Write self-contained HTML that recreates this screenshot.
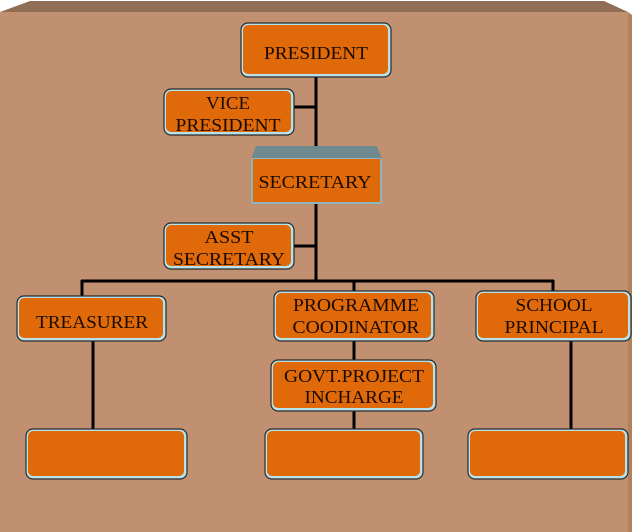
<!DOCTYPE html>
<html><head><style>
html,body{margin:0;padding:0;background:#fff;}
svg{display:block;}
text{font-family:"Liberation Serif",serif;font-size:18px;fill:#1a0a00;text-anchor:middle;}
</style></head><body>
<svg width="632" height="532" viewBox="0 0 632 532" xmlns="http://www.w3.org/2000/svg">
<polygon points="0,12 30,1 604,1 628,12" fill="#8f6e55"/>
<polygon points="0,12 628,12 628,532 0,532" fill="#c09070"/>
<polygon points="628,12 632,15 632,532 628,532" fill="#b0805f"/>
<g stroke="#000" stroke-width="3" fill="none">
<line x1="316" y1="77" x2="316" y2="282"/>
<line x1="294" y1="107" x2="316" y2="107"/>
<line x1="294" y1="246" x2="316" y2="246"/>
<line x1="81" y1="281" x2="554" y2="281"/>
<line x1="82" y1="280" x2="82" y2="296"/>
<line x1="354" y1="280" x2="354" y2="291"/>
<line x1="553" y1="280" x2="553" y2="291"/>
<line x1="93" y1="341" x2="93" y2="429"/>
<line x1="354" y1="341" x2="354" y2="361"/>
<line x1="354" y1="411" x2="354" y2="429"/>
<line x1="571" y1="341" x2="571" y2="429"/>
</g>
<g stroke="#2a2a2a" stroke-width="1.2">
<rect x="241" y="23" width="150" height="54" rx="7" fill="#b8e2ea"/>
<rect x="164" y="89" width="130" height="46" rx="7" fill="#b8e2ea"/>
<rect x="164" y="223" width="130" height="46" rx="7" fill="#b8e2ea"/>
<rect x="17" y="296" width="149" height="45" rx="7" fill="#b8e2ea"/>
<rect x="274" y="291" width="160" height="50" rx="7" fill="#b8e2ea"/>
<rect x="476" y="291" width="155" height="50" rx="7" fill="#b8e2ea"/>
<rect x="271" y="360" width="165" height="51" rx="7" fill="#b8e2ea"/>
<rect x="26" y="429" width="161" height="50" rx="7" fill="#b8e2ea"/>
<rect x="265" y="429" width="158" height="50" rx="7" fill="#b8e2ea"/>
<rect x="468" y="429" width="160" height="50" rx="7" fill="#b8e2ea"/>
</g>
<g fill="#e06a0a">
<rect x="243" y="25" width="145" height="49" rx="5"/>
<rect x="166" y="91" width="125" height="41" rx="5"/>
<rect x="166" y="225" width="125" height="41" rx="5"/>
<rect x="19" y="298" width="144" height="40" rx="5"/>
<rect x="276" y="293" width="155" height="45" rx="5"/>
<rect x="478" y="293" width="150" height="45" rx="5"/>
<rect x="273" y="362" width="160" height="46" rx="5"/>
<rect x="28" y="431" width="156" height="45" rx="5"/>
<rect x="267" y="431" width="153" height="45" rx="5"/>
<rect x="470" y="431" width="155" height="45" rx="5"/>
</g>
<polygon points="256,146 377,146 382,159 251,159" fill="#6e8a8e"/>
<rect x="251" y="158" width="131" height="46" rx="2" fill="#8fb4ba"/>
<rect x="253" y="159" width="127" height="43" fill="#e06a0a"/>
<g lengthAdjust="spacingAndGlyphs">
<text x="316" y="59" textLength="104" lengthAdjust="spacingAndGlyphs">PRESIDENT</text>
<text x="228" y="109" textLength="44" lengthAdjust="spacingAndGlyphs">VICE</text>
<text x="228" y="131" textLength="105" lengthAdjust="spacingAndGlyphs">PRESIDENT</text>
<text x="315" y="188" textLength="113" lengthAdjust="spacingAndGlyphs">SECRETARY</text>
<text x="229" y="243" textLength="49" lengthAdjust="spacingAndGlyphs">ASST</text>
<text x="229" y="265" textLength="112" lengthAdjust="spacingAndGlyphs">SECRETARY</text>
<text x="92" y="328" textLength="112" lengthAdjust="spacingAndGlyphs">TREASURER</text>
<text x="356" y="311" textLength="126" lengthAdjust="spacingAndGlyphs">PROGRAMME</text>
<text x="356" y="333" textLength="127" lengthAdjust="spacingAndGlyphs">COODINATOR</text>
<text x="554" y="311" textLength="77" lengthAdjust="spacingAndGlyphs">SCHOOL</text>
<text x="554" y="333" textLength="99" lengthAdjust="spacingAndGlyphs">PRINCIPAL</text>
<text x="354" y="382" textLength="140" lengthAdjust="spacingAndGlyphs">GOVT.PROJECT</text>
<text x="354" y="403" textLength="99" lengthAdjust="spacingAndGlyphs">INCHARGE</text>
</g>
</svg>
</body></html>
